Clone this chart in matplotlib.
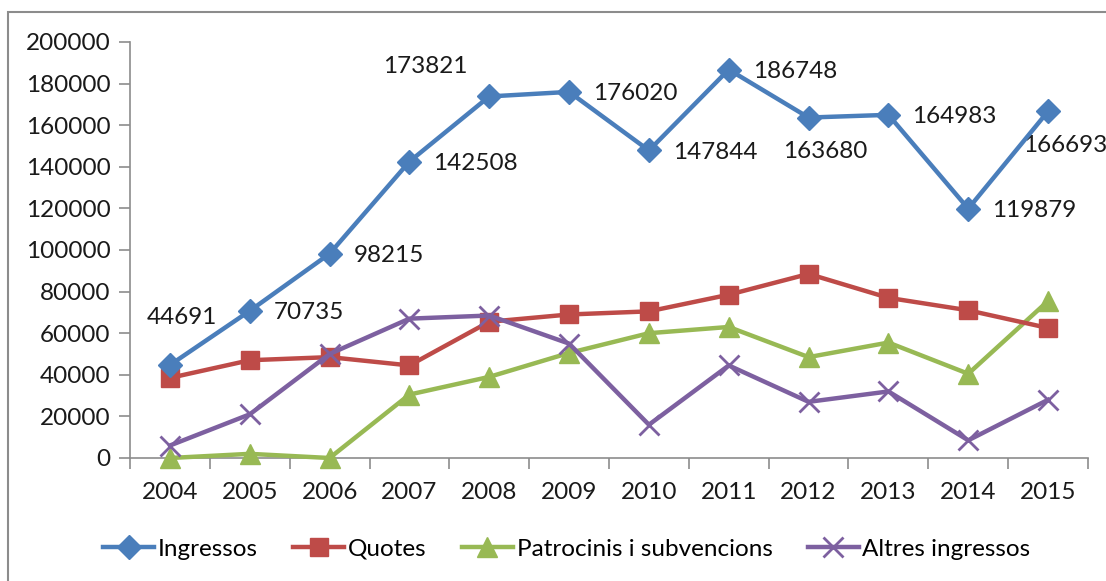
import matplotlib
matplotlib.use("Agg")
import matplotlib.pyplot as plt
from matplotlib.patches import Rectangle

years = ["2004", "2005", "2006", "2007", "2008", "2009", "2010", "2011", "2012", "2013", "2014", "2015"]
ingressos = [44691, 70735, 98215, 142508, 173821, 176020, 147844, 186748, 163680, 164983, 119879, 166693]
quotes = [38500, 47000, 48500, 44500, 65500, 69000, 70500, 78500, 88500, 77000, 71000, 62500]
patrocinis = [0, 2000, 0, 30500, 39000, 50500, 60000, 63000, 48500, 55500, 40500, 75500]
altres = [6000, 21000, 50000, 67000, 68500, 55000, 16000, 44500, 27000, 32000, 8500, 28000]

# where each Ingressos label sits relative to its point (Excel-ish positions)
label_pos = ["above", "right", "right", "right", "aboveleft", "right",
             "right", "right", "below", "right", "right", "below"]

plt.rcParams['font.family'] = ['Lato', 'DejaVu Sans']
FS = 17.5

fig = plt.figure(figsize=(11.06, 5.81), dpi=100)
fig.patches.append(Rectangle((8 / 1106, -0.1), 1.2, 1 - 12 / 581 + 0.1,
                             transform=fig.transFigure, fill=False,
                             edgecolor="#8c8c8c", linewidth=1.5))

ax = fig.add_axes([130 / 1106, 1 - 458 / 581, (1088 - 130) / 1106, (458 - 42) / 581])
x = list(range(len(years)))

ax.plot(x, ingressos, '-D', color="#4a7ebb", lw=3.2, ms=12, label="Ingressos", clip_on=False, zorder=5)
ax.plot(x, quotes, '-s', color="#be4b48", lw=3.2, ms=13, label="Quotes", clip_on=False, zorder=4)
ax.plot(x, patrocinis, '-^', color="#98b954", lw=3.2, ms=14, label="Patrocinis i subvencions", clip_on=False, zorder=3)
ax.plot(x, altres, '-x', color="#7d60a0", lw=3.2, ms=14, mew=2, label="Altres ingressos", clip_on=False, zorder=4)

for xi, v, p in zip(x, ingressos, label_pos):
    if p == "right":
        ax.annotate(str(v), (xi, v), xytext=(24, -2), textcoords="offset pixels",
                    ha="left", va="center", fontsize=FS, color="#1a1a1a", annotation_clip=False)
    elif p == "above":
        ax.annotate(str(v), (xi, v), xytext=(12, 48), textcoords="offset pixels",
                    ha="center", va="center", fontsize=FS, color="#1a1a1a", annotation_clip=False)
    elif p == "aboveleft":
        ax.annotate(str(v), (xi, v), xytext=(-64, 30), textcoords="offset pixels",
                    ha="center", va="center", fontsize=FS, color="#1a1a1a", annotation_clip=False)
    else:
        ax.annotate(str(v), (xi, v), xytext=(17, -34), textcoords="offset pixels",
                    ha="center", va="center", fontsize=FS, color="#1a1a1a", annotation_clip=False)

ax.set_xlim(-0.5, len(years) - 0.5)
ax.set_ylim(0, 200000)
ax.set_yticks(range(0, 200001, 20000))
ax.set_yticklabels([str(t) for t in range(0, 200001, 20000)])
ax.set_xticks([i + 0.5 for i in range(-1, len(years))], minor=False)
ax.set_xticklabels([])
ax.set_xticks(x, minor=True)
ax.set_xticklabels(years, minor=True)
ax.tick_params(axis="x", which="major", length=8, color="#8c8c8c", width=1.2)
ax.tick_params(axis="x", which="minor", length=0, pad=17, labelsize=FS, labelcolor="#1a1a1a")
ax.tick_params(axis="y", length=8, color="#8c8c8c", width=1.2, labelsize=FS, labelcolor="#1a1a1a", pad=6)

for s in ["top", "right"]:
    ax.spines[s].set_visible(False)
for s in ["left", "bottom"]:
    ax.spines[s].set_color("#8c8c8c")
    ax.spines[s].set_linewidth(1.2)

fig.legend(loc="center", bbox_to_anchor=(567 / 1106, 1 - 549 / 581), ncol=4, frameon=False,
           fontsize=FS, handlelength=2.1, columnspacing=1.45, handletextpad=0.15)

fig.savefig("out.png", dpi=100)
